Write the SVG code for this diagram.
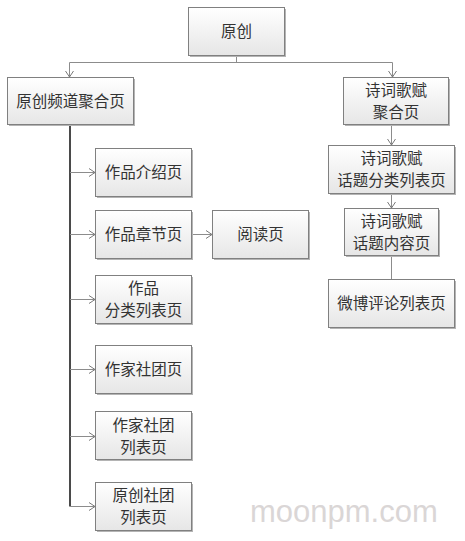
<svg xmlns="http://www.w3.org/2000/svg" width="465" height="541" viewBox="0 0 465 541">
<defs>
<linearGradient id="g" x1="0" y1="0" x2="0" y2="1">
<stop offset="0" stop-color="#ffffff"/>
<stop offset="1" stop-color="#e6e6e6"/>
</linearGradient>
<marker id="arr" markerWidth="8" markerHeight="10" refX="7" refY="5" orient="auto" markerUnits="userSpaceOnUse">
<path d="M1,1 L7,5 L1,9" fill="none" stroke="#7a7a7a" stroke-width="1"/>
</marker>
</defs>
<style>
.sh{fill:#b4b4b4;}
.bx{fill:url(#g);stroke:#808080;stroke-width:1;}
text{font-family:"Noto Sans CJK SC","Noto Sans",sans-serif;font-size:15.5px;fill:#333;text-anchor:middle;}
.ln{stroke:#8c8c8c;stroke-width:1;fill:none;}
.trunk{stroke:#4a4a4a;stroke-width:2;fill:none;}
.wm{font-family:"Liberation Sans",Arial,sans-serif;font-size:31px;fill:#dad6d6;text-anchor:start;}
</style>
<rect width="465" height="541" fill="#ffffff"/>
<g id="connectors">
<path class="ln" d="M236.5,55 V62.5"/>
<path class="ln" d="M69.5,62.5 H392.5"/>
<path class="ln" d="M69.5,62.5 V77" marker-end="url(#arr)"/>
<path class="ln" d="M392.5,62.5 V77" marker-end="url(#arr)"/>
<path class="trunk" d="M70,124 V506.5"/>
<path class="ln" d="M70,172.5 H95" marker-end="url(#arr)"/>
<path class="ln" d="M70,234.5 H95" marker-end="url(#arr)"/>
<path class="ln" d="M70,299.5 H95" marker-end="url(#arr)"/>
<path class="ln" d="M70,369.5 H95" marker-end="url(#arr)"/>
<path class="ln" d="M70,436.5 H95" marker-end="url(#arr)"/>
<path class="ln" d="M70,506.5 H95" marker-end="url(#arr)"/>
<path class="ln" d="M191,234.5 H212" marker-end="url(#arr)"/>
<path class="ln" d="M391.5,124 V145" marker-end="url(#arr)"/>
<path class="ln" d="M391.5,193 V208" marker-end="url(#arr)"/>
<path class="ln" d="M391.5,255 V279"/>
</g>
<g id="n-yuanchuang">
<rect class="sh" x="190" y="9" width="96" height="48"/>
<rect class="bx" x="188.5" y="7.5" width="96" height="48"/>
<text x="236.5" y="37">原创</text>
</g>
<g id="n-pindao">
<rect class="sh" x="9" y="79" width="126" height="47"/>
<rect class="bx" x="7.5" y="77.5" width="126" height="47"/>
<text x="70.5" y="106.5">原创频道聚合页</text>
</g>
<g id="n-shici">
<rect class="sh" x="345" y="79" width="105" height="47"/>
<rect class="bx" x="343.5" y="77.5" width="105" height="47"/>
<text x="396" y="95.5">诗词歌赋</text>
<text x="396" y="117.5">聚合页</text>
</g>
<g id="n-huati-fenlei">
<rect class="sh" x="330" y="147" width="126" height="48"/>
<rect class="bx" x="328.5" y="145.5" width="126" height="48"/>
<text x="391.5" y="164">诗词歌赋</text>
<text x="391.5" y="186">话题分类列表页</text>
</g>
<g id="n-huati-neirong">
<rect class="sh" x="346" y="210" width="94" height="47"/>
<rect class="bx" x="344.5" y="208.5" width="94" height="47"/>
<text x="391.5" y="226.5">诗词歌赋</text>
<text x="391.5" y="248.5">话题内容页</text>
</g>
<g id="n-weibo">
<rect class="sh" x="330" y="281" width="126" height="48"/>
<rect class="bx" x="328.5" y="279.5" width="126" height="48"/>
<text x="391.5" y="309">微博评论列表页</text>
</g>
<g id="n-jieshao">
<rect class="sh" x="97" y="150" width="96" height="48"/>
<rect class="bx" x="95.5" y="148.5" width="96" height="48"/>
<text x="143.5" y="178">作品介绍页</text>
</g>
<g id="n-zhangjie">
<rect class="sh" x="97" y="212" width="96" height="48"/>
<rect class="bx" x="95.5" y="210.5" width="96" height="48"/>
<text x="143.5" y="240">作品章节页</text>
</g>
<g id="n-yuedu">
<rect class="sh" x="214" y="212" width="96" height="48"/>
<rect class="bx" x="212.5" y="210.5" width="96" height="48"/>
<text x="260.5" y="240">阅读页</text>
</g>
<g id="n-fenlei">
<rect class="sh" x="97" y="277" width="96" height="48"/>
<rect class="bx" x="95.5" y="275.5" width="96" height="48"/>
<text x="143.5" y="294">作品</text>
<text x="143.5" y="316">分类列表页</text>
</g>
<g id="n-zuojia">
<rect class="sh" x="97" y="347" width="96" height="48"/>
<rect class="bx" x="95.5" y="345.5" width="96" height="48"/>
<text x="143.5" y="375">作家社团页</text>
</g>
<g id="n-zuojia-list">
<rect class="sh" x="97" y="413" width="96" height="48"/>
<rect class="bx" x="95.5" y="411.5" width="96" height="48"/>
<text x="143.5" y="430.5">作家社团</text>
<text x="143.5" y="452.5">列表页</text>
</g>
<g id="n-yuanchuang-list">
<rect class="sh" x="97" y="484" width="96" height="48"/>
<rect class="bx" x="95.5" y="482.5" width="96" height="48"/>
<text x="143.5" y="501">原创社团</text>
<text x="143.5" y="523">列表页</text>
</g>
<text class="wm" x="250" y="522">moonpm.com</text>
</svg>
